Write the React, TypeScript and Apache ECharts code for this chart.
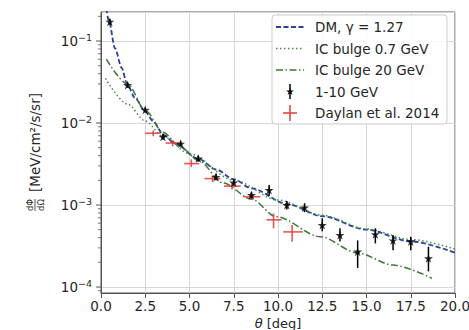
import React, { useEffect, useRef } from 'react';
import * as echarts from 'echarts';

// ---- data ----
const yMajorTicks = [1e-4, 1e-3, 1e-2, 1e-1];
const yMinorMantissas = [2, 3, 4, 5, 6, 7, 8, 9];
const yDecades = [1e-5, 1e-4, 1e-3, 1e-2, 1e-1];

const dmTheta = [0.3, 0.45, 0.79, 1.17, 1.45, 1.92, 2.49, 2.95, 3.52, 4.18, 5.5, 6.5, 7.5, 8.5, 10.5, 12.5, 15, 17.5, 20];
const dmFlux = [0.25, 0.174, 0.082, 0.047, 0.031, 0.0202, 0.0139, 0.0105, 0.0072, 0.0056, 0.00366, 0.00271, 0.00206, 0.0016, 0.00103, 0.00073, 0.0005, 0.00036, 0.000263];

const ic07Theta = [0.25, 1.5, 2.5, 3.5, 5, 7.5, 10, 12.5, 15, 17.5, 20];
const ic07Flux = [0.035, 0.017, 0.0106, 0.0069, 0.0042, 0.002, 0.00115, 0.00075, 0.00051, 0.00038, 0.00029];

const ic20Theta = [0.3, 1.5, 2.5, 3.5, 4.5, 5.5, 6.9, 8.5, 9.9, 12.4, 14.5, 16.5, 18.7];
const ic20Flux = [0.06, 0.03, 0.0143, 0.0077, 0.0051, 0.0035, 0.00186, 0.00118, 0.00072, 0.00041, 0.00026, 0.000185, 0.000128];

const fermiTheta = [0.5, 1.5, 2.5, 3.5, 4.5, 5.5, 6.5, 7.5, 8.5, 9.5, 10.5, 11.5, 12.5, 13.5, 14.5, 15.5, 16.5, 17.5, 18.5];
const fermiFlux = [0.172, 0.029, 0.0145, 0.0068, 0.0056, 0.0037, 0.0022, 0.00188, 0.00132, 0.00152, 0.001, 0.00093, 0.00057, 0.00043, 0.00027, 0.00044, 0.00037, 0.00036, 0.000224];
const fermiLow = [0.16, 0.027, 0.0135, 0.0063, 0.0052, 0.0034, 0.002, 0.00172, 0.0012, 0.0013, 0.00088, 0.00082, 0.00048, 0.00036, 0.00017, 0.00034, 0.00028, 0.00028, 0.000155];
const fermiHigh = [0.185, 0.031, 0.0155, 0.0073, 0.006, 0.004, 0.0024, 0.00205, 0.00145, 0.00175, 0.00112, 0.00105, 0.00069, 0.00052, 0.00037, 0.00052, 0.00043, 0.00041, 0.00031];

const daylanTheta = [2.95, 4.05, 5.1, 6.3, 7.4, 8.5, 9.75, 10.8];
const daylanThetaLow = [2.5, 3.65, 4.7, 5.85, 6.95, 8.05, 9.35, 10.3];
const daylanThetaHigh = [3.35, 4.45, 5.55, 6.75, 7.9, 9.0, 10.2, 11.4];
const daylanFlux = [0.0075, 0.0057, 0.0032, 0.0021, 0.0017, 0.00126, 0.00066, 0.00047];
const daylanLow = [0.0069, 0.0052, 0.0029, 0.0019, 0.00155, 0.00115, 0.00052, 0.000357];
const daylanHigh = [0.0081, 0.0062, 0.0036, 0.0023, 0.00185, 0.00138, 0.00079, 0.00057];

const legendLabels = ['DM, γ = 1.27', 'IC bulge 0.7 GeV', 'IC bulge 20 GeV', '1-10 GeV', 'Daylan et al. 2014'];

// ---- styles ----
const FONT = 'DejaVu Sans';
const TXT = '#262626';
const DM_COLOR = '#2b3f9e';
const IC07_COLOR = '#3f8f3f';
const IC20_COLOR = '#3d7a35';
const RED = '#e23b3b';
const STAR = 'path://M50,0 L61,35 L98,35 L68,57 L79,91 L50,70 L21,91 L32,57 L2,35 L39,35 Z';
const Y_MIN = 8.45e-5;
const Y_MAX = 0.226;

function zip(a: number[], b: number[]) {
  return a.map((v, i) => [v, b[i]]);
}

export default function App() {
  const ref = useRef<HTMLDivElement>(null);
  useEffect(() => {
    if (!ref.current) return;
    const chart = echarts.init(ref.current, undefined, { renderer: 'svg' });

    const yMinor: number[][] = [];
    yDecades.forEach((d) => yMinorMantissas.forEach((m) => {
      const v = m * d;
      if (v >= Y_MIN && v <= Y_MAX) yMinor.push([0, v, 0]);
    }));
    const yMajor = yMajorTicks.map((v) => [0, v, 1]);

    const legendX = 276;
    const legendY0 = 27;
    const legendDy = 21.5;
    const legendGraphics: any[] = [
      {
        type: 'rect',
        shape: { x: 272, y: 15, width: 175, height: 109, r: 3 },
        style: { fill: 'rgba(255,255,255,0.85)', stroke: '#cccccc', lineWidth: 1 },
        z: 100,
      },
    ];
    const lineStyles = [
      { stroke: DM_COLOR, lineWidth: 1.8, lineDash: [5, 2.5] },
      { stroke: IC07_COLOR, lineWidth: 1.5, lineDash: [1.5, 2.5] },
      { stroke: IC20_COLOR, lineWidth: 1.5, lineDash: [7, 2.5, 1.5, 2.5] },
    ];
    lineStyles.forEach((st, i) => {
      legendGraphics.push({
        type: 'line',
        shape: { x1: legendX, y1: legendY0 + i * legendDy, x2: legendX + 28, y2: legendY0 + i * legendDy },
        style: st,
        z: 101,
      });
    });
    const cx = legendX + 14;
    const yb = legendY0 + 3 * legendDy;
    legendGraphics.push({
      type: 'line',
      shape: { x1: cx, y1: yb - 7.5, x2: cx, y2: yb + 7.5 },
      style: { stroke: '#000', lineWidth: 1.5 },
      z: 101,
    });
    legendGraphics.push({
      type: 'text',
      x: cx,
      y: yb,
      style: { text: '★', fill: '#000', font: `10px ${FONT}`, align: 'center', verticalAlign: 'middle' },
      z: 102,
    });
    const yr = legendY0 + 4 * legendDy;
    legendGraphics.push({
      type: 'line',
      shape: { x1: cx, y1: yr - 8, x2: cx, y2: yr + 8 },
      style: { stroke: RED, lineWidth: 1.5 },
      z: 101,
    });
    legendGraphics.push({
      type: 'line',
      shape: { x1: cx - 7, y1: yr, x2: cx + 7, y2: yr },
      style: { stroke: RED, lineWidth: 1.5 },
      z: 101,
    });
    legendLabels.forEach((t, i) => {
      legendGraphics.push({
        type: 'text',
        x: 315,
        y: legendY0 + i * legendDy,
        style: { text: t, fill: TXT, font: `13.5px ${FONT}`, align: 'left', verticalAlign: 'middle' },
        z: 101,
      });
    });

    // y-axis label (rotated)
    const yLabel = {
      type: 'group',
      x: 35,
      y: 152,
      rotation: Math.PI / 2,
      children: [
        {
          type: 'text',
          x: -40,
          y: 0,
          style: { text: '[MeV/cm²/s/sr]', fill: TXT, font: `13.5px ${FONT}`, align: 'left', verticalAlign: 'middle' },
        },
        {
          type: 'text',
          x: -53,
          y: -1,
          style: { text: 'dΦ', fill: TXT, font: `8.5px ${FONT}`, align: 'center', verticalAlign: 'bottom' },
        },
        {
          type: 'line',
          shape: { x1: -59, y1: 0, x2: -47, y2: 0 },
          style: { stroke: TXT, lineWidth: 0.8 },
        },
        {
          type: 'text',
          x: -53,
          y: 1,
          style: { text: 'dΩ', fill: TXT, font: `8.5px ${FONT}`, align: 'center', verticalAlign: 'top' },
        },
      ],
    };

    // x-axis name (kept fully inside the page)
    const xName = {
      type: 'text',
      x: 278,
      y: 330,
      style: {
        text: '{i|θ} [deg]',
        align: 'center',
        verticalAlign: 'bottom',
        fill: TXT,
        font: `13px ${FONT}`,
        lineHeight: 14,
        rich: { i: { fontStyle: 'italic', fontSize: 13, lineHeight: 14, fill: TXT, fontFamily: FONT } },
      },
    };

    const option: any = {
      animation: false,
      backgroundColor: '#ffffff',
      textStyle: { fontFamily: FONT },
      grid: {
        left: 101,
        right: 14,
        top: 12,
        bottom: 37,
        show: true,
        borderColor: '#555',
        borderWidth: 1,
        backgroundColor: 'transparent',
        containLabel: false,
        outerBoundsMode: 'none',
      },
      xAxis: {
        type: 'value',
        min: 0,
        max: 20,
        interval: 2.5,
        axisLine: { show: true, onZero: false, lineStyle: { color: '#555', width: 1 } },
        axisTick: { show: true, inside: false, length: 5, lineStyle: { color: '#555' } },
        axisLabel: {
          color: TXT,
          fontSize: 13.5,
          lineHeight: 14,
          fontFamily: FONT,
          margin: 6,
          formatter: (v: number) => v.toFixed(1),
        },
        splitLine: { show: true, lineStyle: { color: '#d6d6d6', width: 1 } },
      },
      yAxis: {
        type: 'log',
        logBase: 10,
        min: Y_MIN,
        max: Y_MAX,
        axisLine: { show: true, lineStyle: { color: '#555', width: 1 } },
        axisTick: { show: false },
        minorTick: { show: false },
        axisLabel: {
          color: TXT,
          fontFamily: FONT,
          margin: 9,
          formatter: (v: number) => {
            const e = Math.log10(v);
            const r = Math.round(e);
            if (Math.abs(e - r) > 1e-6) return '';
            return `{b|10}{s|${r < 0 ? '−' : ''}${Math.abs(r)}}`;
          },
          rich: {
            b: { fontSize: 13.5, color: TXT, fontFamily: FONT },
            s: { fontSize: 9.5, color: TXT, fontFamily: FONT, padding: [0, 0, 8, 0] },
          },
        },
        splitLine: { show: true, lineStyle: { color: '#d6d6d6', width: 1 } },
      },
      graphic: [...legendGraphics, yLabel, xName],
      series: [
        {
          name: 'ticks',
          type: 'custom',
          silent: true,
          clip: false,
          data: [...yMajor, ...yMinor],
          renderItem: (params: any, api: any) => {
            const p = api.coord([0, api.value(1)]);
            const len = api.value(2) === 1 ? 5 : 3;
            return {
              type: 'line',
              shape: { x1: p[0] - len, y1: p[1], x2: p[0], y2: p[1] },
              style: { stroke: '#555', lineWidth: api.value(2) === 1 ? 1 : 0.8 },
            };
          },
          z: 3,
        },
        {
          name: legendLabels[0],
          type: 'line',
          data: zip(dmTheta, dmFlux),
          showSymbol: false,
          smooth: 0.3,
          smoothMonotone: 'x',
          lineStyle: { color: DM_COLOR, width: 1.8, type: [5, 2.5] },
          z: 4,
        },
        {
          name: legendLabels[1],
          type: 'line',
          data: zip(ic07Theta, ic07Flux),
          showSymbol: false,
          smooth: 0.3,
          smoothMonotone: 'x',
          lineStyle: { color: IC07_COLOR, width: 1.5, type: [1.5, 2.5] },
          z: 4,
        },
        {
          name: legendLabels[2],
          type: 'line',
          data: zip(ic20Theta, ic20Flux),
          showSymbol: false,
          smooth: 0.3,
          smoothMonotone: 'x',
          lineStyle: { color: IC20_COLOR, width: 1.5, type: [7, 2.5, 1.5, 2.5] },
          z: 4,
        },
        {
          name: legendLabels[4],
          type: 'custom',
          silent: true,
          data: daylanTheta.map((t, i) => [t, daylanFlux[i], daylanThetaLow[i], daylanThetaHigh[i], daylanLow[i], daylanHigh[i]]),
          encode: { x: 0, y: 1 },
          renderItem: (params: any, api: any) => {
            const x = api.value(0);
            const y = api.value(1);
            const p = api.coord([x, y]);
            const pl = api.coord([api.value(2), y]);
            const ph = api.coord([api.value(3), y]);
            const pLo = api.coord([x, api.value(4)]);
            const pHi = api.coord([x, api.value(5)]);
            return {
              type: 'group',
              children: [
                { type: 'line', shape: { x1: pl[0], y1: p[1], x2: ph[0], y2: p[1] }, style: { stroke: RED, lineWidth: 1.6, opacity: 0.85 } },
                { type: 'line', shape: { x1: p[0], y1: pLo[1], x2: p[0], y2: pHi[1] }, style: { stroke: RED, lineWidth: 1.6, opacity: 0.85 } },
              ],
            };
          },
          z: 5,
        },
        {
          name: 'fermi-err',
          type: 'custom',
          silent: true,
          data: fermiTheta.map((t, i) => [t, fermiFlux[i], fermiLow[i], fermiHigh[i]]),
          encode: { x: 0, y: 1 },
          renderItem: (params: any, api: any) => {
            const x = api.value(0);
            const pLo = api.coord([x, api.value(2)]);
            const pHi = api.coord([x, api.value(3)]);
            return {
              type: 'line',
              shape: { x1: pLo[0], y1: pLo[1], x2: pHi[0], y2: pHi[1] },
              style: { stroke: '#000', lineWidth: 1.5 },
            };
          },
          z: 6,
        },
        {
          name: legendLabels[3],
          type: 'scatter',
          data: zip(fermiTheta, fermiFlux),
          symbol: STAR,
          symbolSize: 9,
          itemStyle: { color: '#000' },
          z: 7,
        },
      ],
    };
    chart.setOption(option);
    return () => chart.dispose();
  }, []);
  return <div ref={ref} style={{ position: 'fixed', left: 0, top: 0, width: 469, height: 330, background: '#fff' }} />;
}
